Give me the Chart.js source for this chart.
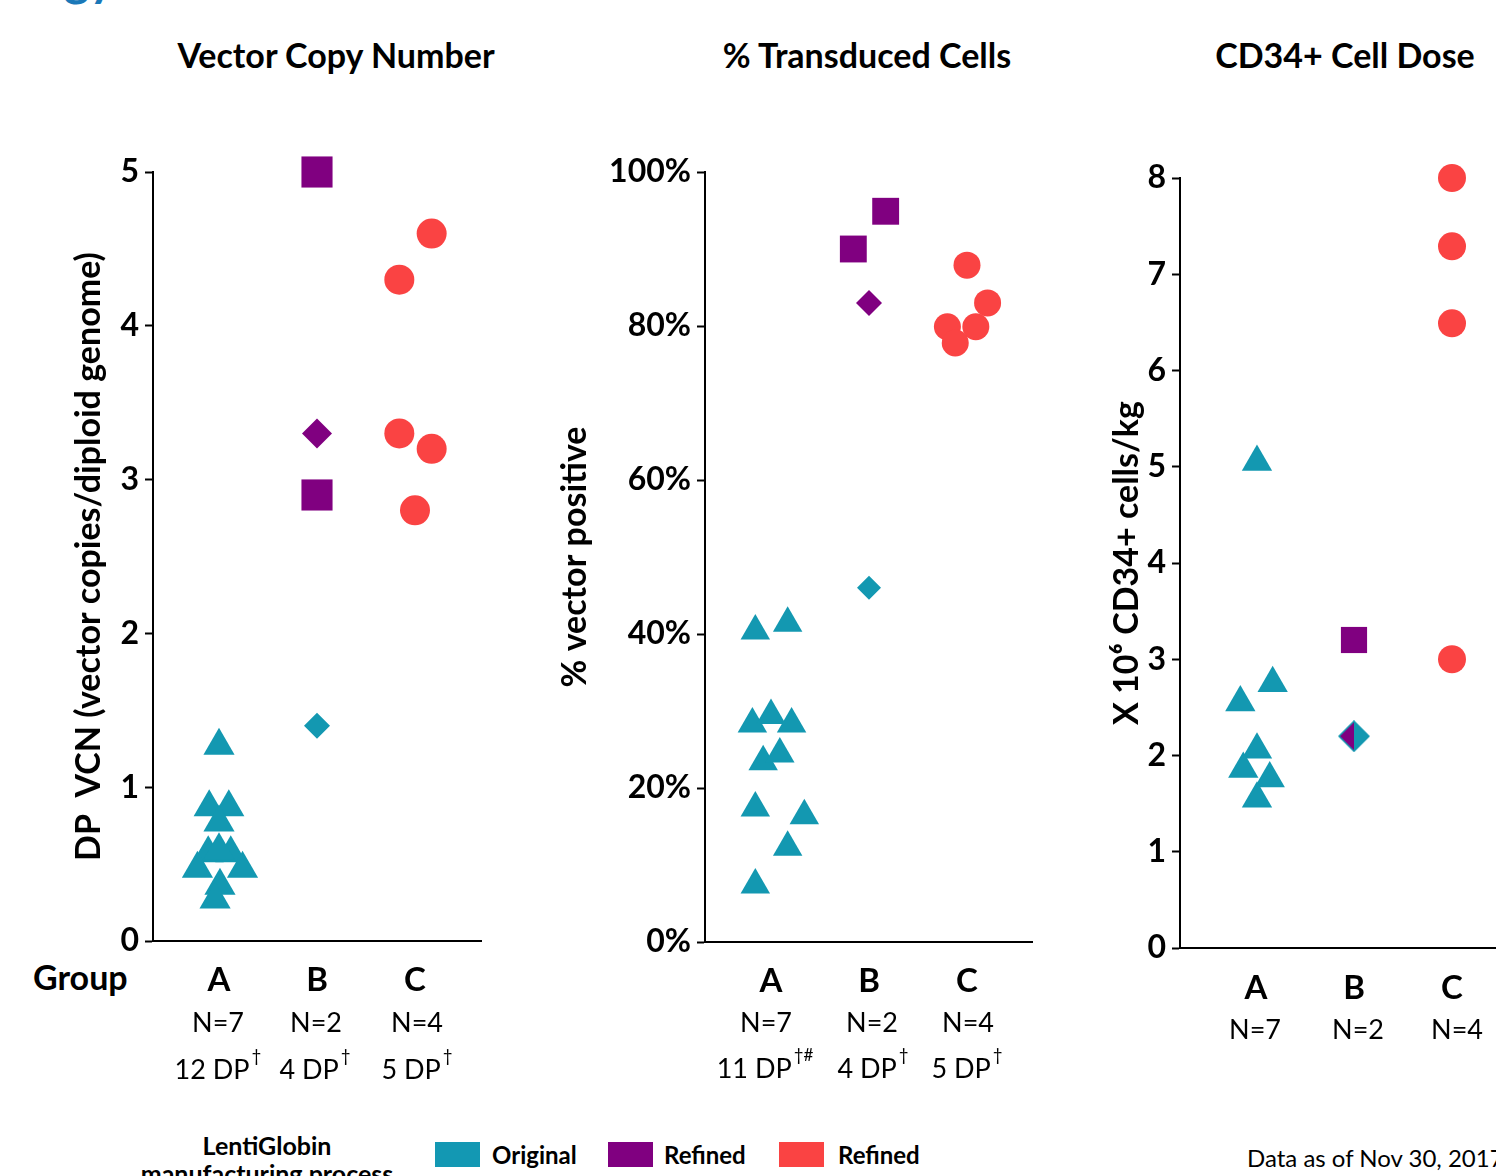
<!DOCTYPE html>
<html><head><meta charset="utf-8">
<script src="https://cdn.jsdelivr.net/npm/chart.js@4.4.0/dist/chart.umd.min.js"></script>
<style>
html,body{margin:0;padding:0;background:#fff;overflow:hidden;width:1496px;height:1176px;position:relative;font-family:Lato,"Open Sans",sans-serif;}
canvas{position:absolute;top:0;}
.t{position:absolute;white-space:nowrap;color:#000;line-height:40px;height:40px;}
.c{transform:translateX(-50%);}
.b{font-weight:bold;}
.box{position:absolute;width:45px;height:25px;}
</style></head><body>
<div class="t b" style="left:64px;top:-47px;font-size:48px;line-height:50px;height:50px;color:#1a78b8;">gy</div>
<div class="t b c" style="left:336px;top:35px;font-size:34px;">Vector Copy Number</div>
<div class="t b c" style="left:867px;top:35px;font-size:34px;">% Transduced Cells</div>
<div class="t b c" style="left:1345px;top:35px;font-size:34px;">CD34+ Cell Dose</div>
<div class="t b" style="left:33px;top:957px;font-size:34px;">Group</div>

<canvas id="c1" width="500" height="1100" style="left:0px"></canvas>
<canvas id="c2" width="550" height="1100" style="left:500px"></canvas>
<canvas id="c3" width="496" height="1100" style="left:1000px"></canvas>

<div class="t b c" style="left:267px;top:1125px;font-size:25px;">LentiGlobin</div>
<div class="t b c" style="left:267px;top:1153px;font-size:25px;">manufacturing process</div>
<div class="box" style="left:435px;top:1142px;background:#1398b3;"></div>
<div class="t b" style="left:492px;top:1135px;font-size:24px;">Original</div>
<div class="box" style="left:608px;top:1142px;background:#800080;"></div>
<div class="t b" style="left:664px;top:1135px;font-size:24px;">Refined</div>
<div class="box" style="left:779px;top:1142px;background:#fa4343;"></div>
<div class="t b" style="left:838px;top:1135px;font-size:24px;">Refined</div>
<div class="t" style="left:1247px;top:1138px;font-size:24px;">Data as of Nov 30, 2017</div>

<script>
// ---------- data ----------
const groups = ['A', 'B', 'C'];
// Panel 1: Vector Copy Number (x = group position incl. jitter)
const vcnAx = [1.00, 0.90, 1.10, 1.00, 0.89, 1.12, 1.00, 0.78, 1.24, 1.01, 0.96];
const vcnAy = [1.27, 0.87, 0.87, 0.77, 0.57, 0.57, 0.59, 0.47, 0.47, 0.36, 0.27];
const vcnBsqX = [2.0, 2.0];
const vcnBsqY = [5.0, 2.9];
const vcnBdiaPurpleX = [2.0];
const vcnBdiaPurpleY = [3.3];
const vcnBdiaTealX = [2.0];
const vcnBdiaTealY = [1.4];
const vcnCx = [3.17, 2.84, 2.84, 3.17, 3.00];
const vcnCy = [4.6, 4.3, 3.3, 3.2, 2.8];
const vcnTicks = [0, 1, 2, 3, 4, 5];
const vcnN = ['N=7', 'N=2', 'N=4'];
const vcnDP = [['12 DP', '†'], ['4 DP', '†'], ['5 DP', '†']];

// Panel 2: % Transduced Cells
const tdAx = [0.84, 1.17, 0.81, 1.00, 1.21, 0.92, 1.09, 0.84, 1.34, 1.17, 0.84];
const tdAy = [40.4, 41.4, 28.3, 29.4, 28.3, 23.4, 24.4, 17.4, 16.4, 12.3, 7.4];
const tdBsqX = [2.17, 1.84];
const tdBsqY = [94.9, 90.0];
const tdBdiaPurpleX = [2.0];
const tdBdiaPurpleY = [83.0];
const tdBdiaTealX = [2.0];
const tdBdiaTealY = [46.0];
const tdCx = [3.00, 3.21, 2.80, 3.09, 2.88];
const tdCy = [87.9, 83.0, 79.9, 79.9, 77.8];
const tdTicks = [0, 20, 40, 60, 80, 100];
const tdN = ['N=7', 'N=2', 'N=4'];
const tdDP = [['11 DP', '†#'], ['4 DP', '†'], ['5 DP', '†']];

// Panel 3: CD34+ Cell Dose (x 10^6 cells/kg)
const cdAx = [1.01, 1.17, 0.84, 1.01, 0.87, 1.14, 1.01];
const cdAy = [5.05, 2.75, 2.55, 2.06, 1.86, 1.76, 1.55];
const cdBsqX = [2.0];
const cdBsqY = [3.2];
const cdBdiaMixX = [2.0];
const cdBdiaMixY = [2.2];
const cdCx = [3.0, 3.0, 3.0, 3.0];
const cdCy = [8.0, 7.29, 6.49, 3.0];
const cdTicks = [0, 1, 2, 3, 4, 5, 6, 7, 8];
const cdN = ['N=7', 'N=2', 'N=4'];

// ---------- styling ----------
const TEAL = '#1398b1', PURPLE = '#800080', RED = '#fa4343';
const FONT = 'Lato, "Open Sans", sans-serif';

function pts(xs, ys) { return xs.map((x, i) => ({x: x, y: ys[i]})); }
function ds(xs, ys, style, r, color) {
  return {data: pts(xs, ys), pointStyle: style, pointRadius: r, pointHoverRadius: r,
    pointBackgroundColor: color, pointBorderWidth: 0, pointHoverBorderWidth: 0,
    backgroundColor: color, borderWidth: 0, clip: false};
}
function halfDiamond(r) {
  const c = document.createElement('canvas');
  const s = Math.ceil(2 * r + 2);
  c.width = s; c.height = s;
  const g = c.getContext('2d');
  const m = s / 2;
  g.beginPath(); g.moveTo(m, m - r); g.lineTo(m, m + r); g.lineTo(m - r, m); g.closePath();
  g.fillStyle = PURPLE; g.fill();
  g.beginPath(); g.moveTo(m, m - r); g.lineTo(m + r, m); g.lineTo(m, m + r); g.closePath();
  g.fillStyle = TEAL; g.fill();
  g.beginPath(); g.moveTo(m, m - r); g.lineTo(m + r, m); g.lineTo(m, m + r); g.lineTo(m - r, m); g.closePath();
  g.strokeStyle = TEAL; g.lineWidth = 1.5; g.stroke();
  return c;
}

function labelPlugin(rows) {
  return {id: 'catLabels', afterDraw(chart) {
    const ctx = chart.ctx, xs = chart.scales.x;
    ctx.save();
    ctx.fillStyle = '#000'; ctx.textBaseline = 'middle'; ctx.textAlign = 'left';
    rows.forEach(row => {
      row.texts.forEach((t, i) => {
        const main = Array.isArray(t) ? t[0] : t;
        const sup = Array.isArray(t) ? t[1] : '';
        const cx = xs.getPixelForValue(i + 1) + (row.dx ? row.dx[i] : 0);
        ctx.font = row.font; const mw = ctx.measureText(main).width;
        ctx.font = row.supFont || row.font; const sw = sup ? ctx.measureText(sup).width : 0;
        const x0 = cx - (mw + sw + (sup ? 2 : 0)) / 2;
        ctx.font = row.font; ctx.fillText(main, x0, row.y);
        if (sup) { ctx.font = row.supFont; ctx.fillText(sup, x0 + mw + 2, row.y - 13); }
      });
    });
    ctx.restore();
  }};
}

function makeChart(id, cfg) {
  const yw = cfg.chartLeft - 20;
  return new Chart(document.getElementById(id), {
    type: 'scatter',
    data: {datasets: cfg.datasets},
    options: {
      responsive: false, animation: false, devicePixelRatio: 1,
      events: [],
      layout: {autoPadding: false,
        padding: {left: 20, right: cfg.padRight, top: cfg.top, bottom: 1100 - cfg.bottom - 10}},
      plugins: {legend: {display: false}, tooltip: {enabled: false}, title: {display: false}},
      scales: {
        x: {type: 'linear', min: cfg.xmin, max: cfg.xmax,
          ticks: {display: false},
          grid: {display: false},
          border: {display: true, color: '#000', width: 2},
          afterFit(s) { s.height = 10; }},
        y: {type: 'linear', min: cfg.ymin, max: cfg.ymax,
          afterBuildTicks(s) { s.ticks = cfg.ticks.map(v => ({value: v})); },
          ticks: {color: '#000', padding: 6, font: {family: FONT, size: 32, weight: 'bold'},
            callback: cfg.tickCb || (v => String(v))},
          grid: {display: true, drawOnChartArea: false, drawTicks: true, tickLength: 8,
            tickColor: '#000', tickWidth: 2},
          border: {display: true, color: '#000', width: 2},
          title: {display: true, text: cfg.ytitle, color: '#000',
            font: {family: FONT, size: 34, weight: 'bold', lineHeight: 1.2},
            padding: {top: cfg.titlePad, bottom: 0}},
          afterFit(s) { s.width = yw; }}
      }
    },
    plugins: [labelPlugin(cfg.rows)]
  });
}

makeChart('c1', {
  chartLeft: 153, padRight: 19, top: 172, bottom: 941,
  xmin: 1 - 66 / 98, xmax: 1 - 66 / 98 + 328 / 98, ymin: 0, ymax: 5, ticks: vcnTicks,
  ytitle: 'DP  VCN (vector copies/diploid genome)', titlePad: 49,
  datasets: [
    ds(vcnBsqX, vcnBsqY, 'rect', 22, PURPLE),
    ds(vcnBdiaPurpleX, vcnBdiaPurpleY, 'rectRot', 15, PURPLE),
    ds(vcnBdiaTealX, vcnBdiaTealY, 'rectRot', 13, TEAL),
    ds(vcnCx, vcnCy, 'circle', 15, RED),
    ds(vcnAx, vcnAy, 'triangle', 18, TEAL)
  ],
  rows: [
    {texts: groups, font: 'bold 33px ' + FONT, y: 980},
    {texts: vcnN, font: '27px ' + FONT, y: 1023, dx: [-1, -1, 2]},
    {texts: vcnDP, font: '27px ' + FONT, supFont: '17px ' + FONT, y: 1070, dx: [-1, -2, 2]}
  ]
});

makeChart('c2', {
  chartLeft: 205, padRight: 18, top: 172, bottom: 942,
  xmin: 1 - 66 / 98, xmax: 1 - 66 / 98 + 327 / 98, ymin: 0, ymax: 100, ticks: tdTicks,
  tickCb: v => v + '%',
  ytitle: '% vector positive', titlePad: 35,
  datasets: [
    ds(tdBsqX, tdBsqY, 'rect', 19, PURPLE),
    ds(tdBdiaPurpleX, tdBdiaPurpleY, 'rectRot', 13, PURPLE),
    ds(tdBdiaTealX, tdBdiaTealY, 'rectRot', 12, TEAL),
    ds(tdCx, tdCy, 'circle', 13.5, RED),
    ds(tdAx, tdAy, 'triangle', 17, TEAL)
  ],
  rows: [
    {texts: groups, font: 'bold 33px ' + FONT, y: 981},
    {texts: tdN, font: '27px ' + FONT, y: 1023, dx: [-5, 3, 1]},
    {texts: tdDP, font: '27px ' + FONT, supFont: '17px ' + FONT, y: 1069, dx: [-6, 4, 0]}
  ]
});

makeChart('c3', {
  chartLeft: 180, padRight: 0, top: 178, bottom: 948,
  xmin: 1 - 76 / 98, xmax: 1 - 76 / 98 + 316 / 98, ymin: 0, ymax: 8, ticks: cdTicks,
  ytitle: 'X 10\u2076 CD34+ cells/kg', titlePad: 87,
  datasets: [
    ds(cdBsqX, cdBsqY, 'rect', 18.5, PURPLE),
    ds(cdBdiaMixX, cdBdiaMixY, halfDiamond(15), 15, PURPLE),
    ds(cdCx, cdCy, 'circle', 14, RED),
    ds(cdAx, cdAy, 'triangle', 17.5, TEAL)
  ],
  rows: [
    {texts: groups, font: 'bold 33px ' + FONT, y: 988},
    {texts: cdN, font: '27px ' + FONT, y: 1030, dx: [-1, 4, 5]}
  ]
});
</script>
</body></html>
